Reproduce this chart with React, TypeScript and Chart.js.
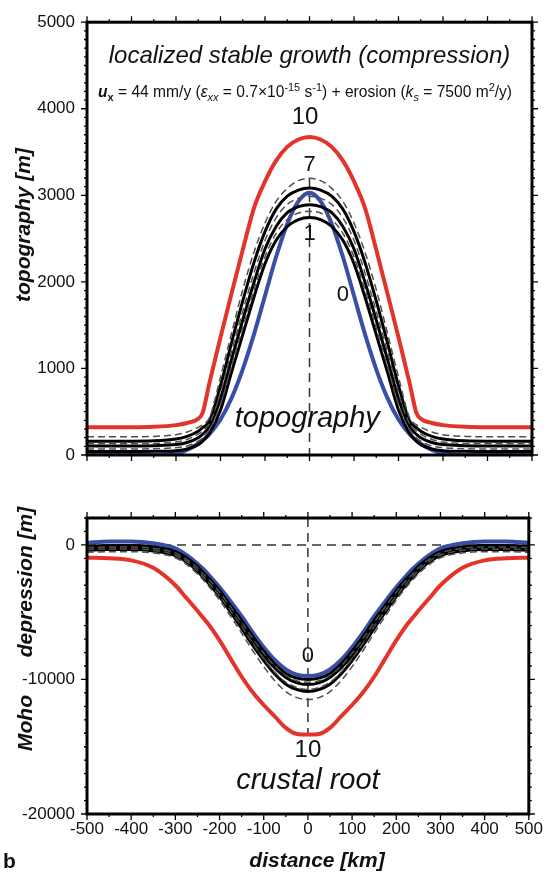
import { useEffect, useRef } from "react";
import { Chart, registerables } from "chart.js";

Chart.register(...registerables);

const FONT = "'Liberation Sans', Arial, Helvetica, sans-serif";

// distance along profile [km]
const distanceKm = [-500, -450, -400, -350, -300, -275, -250, -240, -225, -200, -175, -150, -125, -100, -75, -50, -25, 0, 25, 50, 75, 100, 125, 150, 175, 200, 225, 240, 250, 275, 300, 350, 400, 450, 500];

const xTickValues = [-500, -400, -300, -200, -100, 0, 100, 200, 300, 400, 500];
const topoTickValues = [0, 1000, 2000, 3000, 4000, 5000];
const mohoTickValues = [-20000, -10000, 0];

// topography [m] at successive time steps
const topo0 = [0, 0, 0, 0, 20, 60, 130, 170, 240, 410, 660, 990, 1390, 1840, 2290, 2670, 2930, 3030, 2930, 2670, 2290, 1840, 1390, 990, 660, 410, 240, 170, 130, 60, 20, 0, 0, 0, 0];
const topo1 = [40, 40, 40, 42, 50, 70, 120, 160, 250, 520, 960, 1390, 1820, 2210, 2480, 2640, 2720, 2744, 2720, 2640, 2480, 2210, 1820, 1390, 960, 520, 250, 160, 120, 70, 50, 42, 40, 40, 40];
const topo2 = [70, 70, 70, 73, 85, 105, 160, 200, 290, 580, 1030, 1470, 1900, 2290, 2560, 2720, 2795, 2815, 2795, 2720, 2560, 2290, 1900, 1470, 1030, 580, 290, 200, 160, 105, 85, 73, 70, 70, 70];
const topo3 = [105, 105, 105, 108, 120, 145, 200, 240, 330, 650, 1110, 1560, 1990, 2380, 2640, 2800, 2870, 2891, 2870, 2800, 2640, 2380, 1990, 1560, 1110, 650, 330, 240, 200, 145, 120, 108, 105, 105, 105];
const topo4 = [130, 130, 130, 134, 150, 180, 240, 280, 360, 720, 1200, 1660, 2100, 2480, 2740, 2895, 2965, 2990, 2965, 2895, 2740, 2480, 2100, 1660, 1200, 720, 360, 280, 240, 180, 150, 134, 130, 130, 130];
const topo5 = [160, 160, 160, 164, 185, 215, 275, 315, 390, 800, 1300, 1780, 2220, 2580, 2840, 2990, 3060, 3084, 3060, 2990, 2840, 2580, 2220, 1780, 1300, 800, 390, 315, 275, 215, 185, 164, 160, 160, 160];
const topo7 = [210, 210, 210, 215, 235, 265, 320, 350, 430, 900, 1410, 1910, 2340, 2680, 2930, 3080, 3170, 3197, 3170, 3080, 2930, 2680, 2340, 1910, 1410, 900, 430, 350, 320, 265, 235, 215, 210, 210, 210];
const topo10 = [320, 320, 320, 325, 345, 370, 420, 490, 830, 1360, 1870, 2370, 2850, 3160, 3400, 3560, 3645, 3675, 3645, 3560, 3400, 3160, 2850, 2370, 1870, 1360, 830, 490, 420, 370, 345, 325, 320, 320, 320];

// Moho depression [m] at the same time steps
const moho0 = [150, 250, 250, 120, -250, -750, -1400, -1700, -2200, -3150, -4200, -5300, -6500, -7600, -8550, -9250, -9650, -9750, -9650, -9250, -8550, -7600, -6500, -5300, -4200, -3150, -2200, -1700, -1400, -750, -250, 120, 250, 250, 150];
const moho1 = [-100, -50, -50, -150, -500, -950, -1600, -1950, -2450, -3400, -4500, -5600, -6800, -7900, -8850, -9550, -9900, -10000, -9900, -9550, -8850, -7900, -6800, -5600, -4500, -3400, -2450, -1950, -1600, -950, -500, -150, -50, -50, -100];
const moho2 = [-200, -150, -150, -250, -600, -1050, -1700, -2050, -2550, -3500, -4600, -5750, -6950, -8050, -9000, -9700, -10100, -10200, -10100, -9700, -9000, -8050, -6950, -5750, -4600, -3500, -2550, -2050, -1700, -1050, -600, -250, -150, -150, -200];
const moho3 = [-250, -200, -200, -300, -650, -1100, -1800, -2150, -2650, -3600, -4700, -5850, -7050, -8200, -9150, -9850, -10250, -10370, -10250, -9850, -9150, -8200, -7050, -5850, -4700, -3600, -2650, -2150, -1800, -1100, -650, -300, -200, -200, -250];
const moho4 = [-350, -300, -300, -400, -750, -1200, -1900, -2250, -2800, -3800, -4900, -6050, -7300, -8450, -9450, -10200, -10600, -10750, -10600, -10200, -9450, -8450, -7300, -6050, -4900, -3800, -2800, -2250, -1900, -1200, -750, -400, -300, -300, -350];
const moho5 = [-400, -350, -350, -450, -800, -1250, -1950, -2300, -2850, -3850, -5000, -6200, -7450, -8600, -9600, -10350, -10750, -10900, -10750, -10350, -9600, -8600, -7450, -6200, -5000, -3850, -2850, -2300, -1950, -1250, -800, -450, -350, -350, -400];
const moho7 = [-550, -500, -500, -600, -950, -1450, -2150, -2500, -3050, -4100, -5300, -6550, -7850, -9050, -10100, -10900, -11350, -11490, -11350, -10900, -10100, -9050, -7850, -6550, -5300, -4100, -3050, -2500, -2150, -1450, -950, -600, -500, -500, -550];
const moho10 = [-950, -1000, -1150, -1700, -3000, -3950, -4900, -5300, -5900, -7100, -8450, -9800, -10950, -11900, -12750, -13600, -14050, -14100, -14050, -13600, -12750, -11900, -10950, -9800, -8450, -7100, -5900, -5300, -4900, -3950, -3000, -1700, -1150, -1000, -950];

type Kind = "initial" | "solid" | "dashed" | "final";
const stepKinds: { step: string; kind: Kind }[] = [
  { step: "0", kind: "initial" },
  { step: "1", kind: "solid" },
  { step: "2", kind: "dashed" },
  { step: "3", kind: "solid" },
  { step: "4", kind: "dashed" },
  { step: "5", kind: "solid" },
  { step: "7", kind: "dashed" },
  { step: "10", kind: "final" },
];
const topoValues = [topo0, topo1, topo2, topo3, topo4, topo5, topo7, topo10];
const mohoValues = [moho0, moho1, moho2, moho3, moho4, moho5, moho7, moho10];

function styleFor(kind: Kind) {
  switch (kind) {
    case "initial":
      return { borderColor: "#3a4ea6", borderWidth: 4, order: 6 };
    case "solid":
      return { borderColor: "#000000", borderWidth: 3, order: 4 };
    case "dashed":
      return { borderColor: "#505050", borderWidth: 1.5, borderDash: [7, 4], order: 3 };
    default:
      return { borderColor: "#e3342c", borderWidth: 4, order: 1 };
  }
}

function buildDatasets(values: number[][]) {
  return stepKinds.map((s, i) => ({
    label: s.step,
    data: distanceKm.map((d, j) => ({ x: d, y: values[i][j] })),
    pointRadius: 0,
    fill: false,
    cubicInterpolationMode: "monotone" as const,
    ...styleFor(s.kind),
  }));
}

function txt(ctx: CanvasRenderingContext2D, s: string, x: number, y: number, font: string, align: CanvasTextAlign = "center") {
  ctx.save();
  ctx.font = font;
  ctx.fillStyle = "#111";
  ctx.textAlign = align;
  ctx.textBaseline = "middle";
  ctx.fillText(s, x, y);
  ctx.restore();
}

function vtxt(ctx: CanvasRenderingContext2D, s: string, x: number, y: number, font: string) {
  ctx.save();
  ctx.translate(x, y);
  ctx.rotate(-Math.PI / 2);
  ctx.font = font;
  ctx.fillStyle = "#111";
  ctx.textAlign = "center";
  ctx.textBaseline = "middle";
  ctx.fillText(s, 0, 0);
  ctx.restore();
}

type Part = { t: string; st?: string; sc?: number; dy?: number };
const subtitleParts: Part[] = [
  { t: "u", st: "italic bold" },
  { t: "x", st: "bold", sc: 0.7, dy: 0.28 },
  { t: " = 44 mm/y (" },
  { t: "ε", st: "italic" },
  { t: "xx", st: "italic", sc: 0.7, dy: 0.28 },
  { t: " = 0.7×10" },
  { t: "-15", sc: 0.7, dy: -0.38 },
  { t: " s" },
  { t: "-1", sc: 0.7, dy: -0.38 },
  { t: ") + erosion (" },
  { t: "k", st: "italic" },
  { t: "s", st: "italic", sc: 0.7, dy: 0.28 },
  { t: " = 7500 m" },
  { t: "2", sc: 0.7, dy: -0.38 },
  { t: "/y)" },
];

function richText(ctx: CanvasRenderingContext2D, parts: Part[], cx: number, cy: number, size: number) {
  ctx.save();
  ctx.fillStyle = "#111";
  ctx.textBaseline = "alphabetic";
  ctx.textAlign = "left";
  const fontOf = (p: Part) => `${p.st || ""} ${size * (p.sc || 1)}px ${FONT}`;
  let total = 0;
  for (const p of parts) {
    ctx.font = fontOf(p);
    total += ctx.measureText(p.t).width;
  }
  let x = cx - total / 2;
  const base = cy + size * 0.36;
  for (const p of parts) {
    ctx.font = fontOf(p);
    ctx.fillText(p.t, x, base + (p.dy || 0) * size);
    x += ctx.measureText(p.t).width;
  }
  ctx.restore();
}

function panelPlugin(panel: "topo" | "moho") {
  return {
    id: "panel-" + panel,
    beforeDatasetsDraw(chart: any) {
      const { ctx, scales } = chart;
      const x = scales.x;
      const y = scales.y;
      ctx.save();
      ctx.setLineDash([9, 6]);
      ctx.strokeStyle = "#333";
      ctx.lineWidth = 1.5;
      ctx.beginPath();
      if (panel === "topo") {
        ctx.moveTo(x.getPixelForValue(0), y.getPixelForValue(3200));
        ctx.lineTo(x.getPixelForValue(0), y.getPixelForValue(0));
      } else {
        ctx.moveTo(x.getPixelForValue(0), y.getPixelForValue(2000));
        ctx.lineTo(x.getPixelForValue(0), y.getPixelForValue(-14000));
        ctx.moveTo(x.getPixelForValue(-500), y.getPixelForValue(0));
        ctx.lineTo(x.getPixelForValue(500), y.getPixelForValue(0));
      }
      ctx.stroke();
      ctx.restore();
    },
    afterDraw(chart: any) {
      const { ctx, chartArea, scales } = chart;
      const x = scales.x;
      const y = scales.y;
      const { left, right, top, bottom } = chartArea;
      ctx.save();
      ctx.strokeStyle = "#000";
      ctx.lineWidth = 1.3;
      ctx.setLineDash([]);
      ctx.beginPath();
      for (let v = -500; v <= 500; v += 50) {
        const px = x.getPixelForValue(v);
        const len = v % 100 === 0 ? 6 : 3;
        ctx.moveTo(px, bottom);
        ctx.lineTo(px, bottom + len);
        ctx.moveTo(px, top);
        ctx.lineTo(px, top - len);
      }
      const ymin = panel === "topo" ? 0 : -20000;
      const ymax = panel === "topo" ? 5000 : 2000;
      const ystep = panel === "topo" ? 100 : 1000;
      const ymajor = panel === "topo" ? 1000 : 10000;
      for (let v = ymin; v <= ymax; v += ystep) {
        const py = y.getPixelForValue(v);
        const len = v % ymajor === 0 ? 6 : 3;
        ctx.moveTo(left, py);
        ctx.lineTo(left - len, py);
        ctx.moveTo(right, py);
        ctx.lineTo(right + len, py);
      }
      ctx.stroke();
      ctx.lineWidth = 3;
      ctx.strokeRect(left, top, right - left, bottom - top);
      ctx.restore();

      if (panel === "topo") {
        txt(ctx, "localized stable growth (compression)", x.getPixelForValue(0), y.getPixelForValue(4600), `italic 24px ${FONT}`);
        richText(ctx, subtitleParts, x.getPixelForValue(-10), y.getPixelForValue(4200), 15.6);
        txt(ctx, "10", x.getPixelForValue(-10), y.getPixelForValue(3900), `24px ${FONT}`);
        txt(ctx, "7", x.getPixelForValue(0), y.getPixelForValue(3350), `22px ${FONT}`);
        txt(ctx, "1", x.getPixelForValue(0), y.getPixelForValue(2550), `22px ${FONT}`);
        txt(ctx, "0", x.getPixelForValue(75), y.getPixelForValue(1850), `22px ${FONT}`);
        txt(ctx, "topography", x.getPixelForValue(-5), y.getPixelForValue(420), `italic 29px ${FONT}`);
        vtxt(ctx, "topography [m]", 24, 225, `italic bold 21px ${FONT}`);
      } else {
        txt(ctx, "0", x.getPixelForValue(0), y.getPixelForValue(-8250), `22px ${FONT}`);
        txt(ctx, "10", x.getPixelForValue(0), y.getPixelForValue(-15240), `24px ${FONT}`);
        txt(ctx, "crustal root", x.getPixelForValue(0), y.getPixelForValue(-17550), `italic 29px ${FONT}`);
        vtxt(ctx, "depression [m]", 26, 102, `italic bold 21px ${FONT}`);
        vtxt(ctx, "Moho", 26, 243, `italic bold 21px ${FONT}`);
        txt(ctx, "distance [km]", 317, 381, `italic bold 21px ${FONT}`);
        txt(ctx, "b", 3, 382, `bold 21px ${FONT}`, "left");
      }
    },
  };
}

function makeConfig(panel: "topo" | "moho"): any {
  const isTopo = panel === "topo";
  return {
    type: "line",
    data: { datasets: buildDatasets(isTopo ? topoValues : mohoValues) },
    options: {
      animation: false,
      responsive: false,
      devicePixelRatio: 1,
      layout: { padding: { left: 0, right: 16, top: isTopo ? 15 : 38, bottom: 0 } },
      plugins: { legend: { display: false }, tooltip: { enabled: false }, title: { display: false } },
      scales: {
        x: {
          type: "linear",
          min: -500,
          max: 500,
          afterFit: (s: any) => {
            s.height = isTopo ? 25 : 61;
          },
          afterBuildTicks: (s: any) => {
            s.ticks = xTickValues.map((v) => ({ value: v }));
          },
          ticks: {
            display: !isTopo,
            font: { family: FONT, size: 17 },
            color: "#111",
            padding: 5,
            maxRotation: 0,
            autoSkip: false,
            callback: (v: number) => String(v),
          },
          grid: { display: false, drawTicks: false },
          border: { display: false },
        },
        y: {
          type: "linear",
          min: isTopo ? 0 : -20000,
          max: isTopo ? 5000 : 2000,
          afterFit: (s: any) => {
            s.width = 87;
          },
          afterBuildTicks: (s: any) => {
            s.ticks = (isTopo ? topoTickValues : mohoTickValues).map((v) => ({ value: v }));
          },
          ticks: {
            font: { family: FONT, size: 17 },
            color: "#111",
            padding: 12,
            autoSkip: false,
            callback: (v: number) => String(v),
          },
          grid: { display: false, drawTicks: false },
          border: { display: false },
        },
      },
    },
    plugins: [panelPlugin(panel)],
  };
}

export default function App() {
  const topRef = useRef<HTMLCanvasElement | null>(null);
  const botRef = useRef<HTMLCanvasElement | null>(null);

  useEffect(() => {
    const c1 = new Chart(topRef.current as HTMLCanvasElement, makeConfig("topo"));
    const c2 = new Chart(botRef.current as HTMLCanvasElement, makeConfig("moho"));
    return () => {
      c1.destroy();
      c2.destroy();
    };
  }, []);

  return (
    <div style={{ position: "absolute", left: 0, top: 0, width: 548, height: 875, background: "#fff" }}>
      <canvas ref={topRef} width={548} height={480} style={{ position: "absolute", left: 0, top: 0, width: 548, height: 480 }} />
      <canvas ref={botRef} width={548} height={395} style={{ position: "absolute", left: 0, top: 480, width: 548, height: 395 }} />
    </div>
  );
}
